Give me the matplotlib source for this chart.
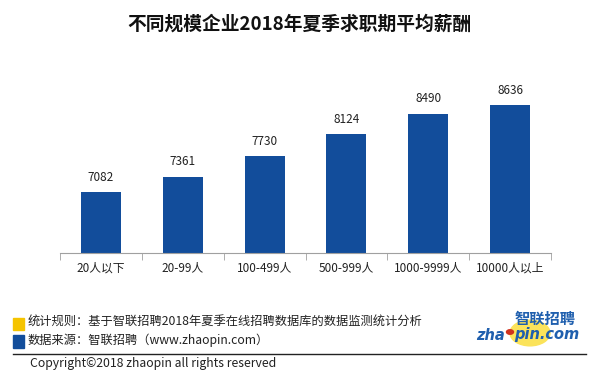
import matplotlib as mpl
mpl.use('Agg')
import matplotlib.pyplot as plt
from matplotlib.patches import Circle, Rectangle
from matplotlib.lines import Line2D

plt.rcParams['font.family'] = ['Noto Sans CJK SC', 'DejaVu Sans']

categories = ['20人以下', '20-99人', '100-499人', '500-999人', '1000-9999人', '10000人以上']
salaries = [7082, 7361, 7730, 8124, 8490, 8636]

barColor = '#124d9b'
W, H = 598, 384

fig = plt.figure(figsize=(W / 100, H / 100), dpi=100)
ax = fig.add_axes([60 / W, 1 - 253 / H, (551 - 60) / W, (253 - 57) / H])

x = range(len(categories))
bars = ax.bar(x, salaries, width=0.49, color=barColor)
for b, v in zip(bars, salaries):
    ax.annotate(str(v), (b.get_x() + b.get_width() / 2, v), xytext=(0, 6),
                textcoords='offset points', ha='center', va='bottom', fontsize=8.5, color='#222222')

ax.set_ylim(6000, 9500)
ax.set_xlim(-0.5, len(categories) - 0.5)
ax.set_yticks([])
for s in ['left', 'right', 'top']:
    ax.spines[s].set_visible(False)
ax.spines['bottom'].set_color('#a0a0a0')
ax.set_xticks(list(x))
ax.set_xticklabels(categories, fontsize=8.5, color='#222222')
ax.tick_params(axis='x', which='major', length=0, pad=6)
ax.set_xticks([i - 0.5 for i in range(len(categories) + 1)], minor=True)
ax.tick_params(axis='x', which='minor', length=5, color='#a0a0a0')

# title
fig.text(299 / W, 1 - 24 / H, '不同规模企业2018年夏季求职期平均薪酬', ha='center', va='center',
         fontsize=13.5, fontweight='bold', color='#111111')

# footer
fig.patches.append(Rectangle((13 / W, 1 - 330 / H), 11 / W, 12 / H, transform=fig.transFigure,
                             color='#f5c400', figure=fig))
fig.patches.append(Rectangle((13 / W, 1 - 348 / H), 11 / W, 13 / H, transform=fig.transFigure,
                             color=barColor, figure=fig))
fig.text(28 / W, 1 - 321 / H, '统计规则：基于智联招聘2018年夏季在线招聘数据库的数据监测统计分析',
         ha='left', va='center', fontsize=8.8, color='#222222')
fig.text(28 / W, 1 - 340 / H, '数据来源：智联招聘（www.zhaopin.com）',
         ha='left', va='center', fontsize=8.8, color='#222222')
fig.lines.append(Line2D([13 / W, 586 / W], [1 - 354 / H, 1 - 354 / H], transform=fig.transFigure,
                        color='#222222', linewidth=1))
fig.text(30 / W, 1 - 364 / H, 'Copyright©2018 zhaopin all rights reserved',
         ha='left', va='center', fontsize=8.8, color='#222222')

# logo
fig.patches.append(Circle((530 / W, 1 - 333 / H), 20 / W, transform=fig.transFigure,
                          color='#fbe35a', figure=fig))
fig.text(505 / W, 1 - 335 / H, 'zha', ha='right', va='center', fontsize=10.5,
         fontweight='bold', style='italic', color='#1f5fae', family='DejaVu Sans')
fig.patches.append(Circle((510 / W, 1 - 332 / H), 3.5 / W, transform=fig.transFigure,
                          color='#d0321e', figure=fig))
fig.text(514 / W, 1 - 335 / H, 'pin.com', ha='left', va='center', fontsize=10.5,
         fontweight='bold', style='italic', color='#1f5fae', family='DejaVu Sans')
fig.text(545 / W, 1 - 319 / H, '智联招聘', ha='center', va='center', fontsize=11,
         fontweight='bold', style='italic', color='#1f5fae')

fig.savefig('out.png', dpi=100, facecolor='white')
